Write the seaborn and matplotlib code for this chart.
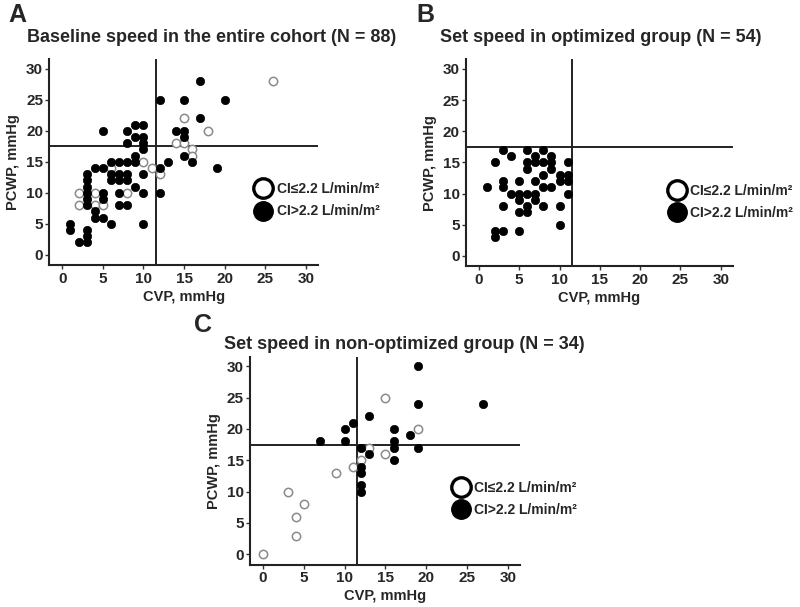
import matplotlib
matplotlib.use("Agg")
import matplotlib.pyplot as plt
from matplotlib.lines import Line2D
import pandas as pd
import seaborn as sns

# Panel A - baseline speed, entire cohort
a_open_cvp = [2, 2, 4, 4, 5, 6, 8, 10, 11, 12, 14, 15, 15, 16, 16, 18, 26]
a_open_pcwp = [10, 8, 10, 8, 8, 14, 10, 15, 14, 13, 18, 18, 22, 17, 16, 20, 28]
a_fill_cvp = [1, 1, 2, 3, 3, 3, 3, 3, 3, 3, 3, 3,
              4, 4, 4, 5, 5, 5, 5, 5,
              6, 6, 6, 6, 7, 7, 7, 7, 7,
              8, 8, 8, 8, 8, 8,
              9, 9, 9, 9, 9,
              10, 10, 10, 10, 10, 10, 10,
              12, 12, 12, 13, 14, 15, 15, 15, 15, 16, 17, 17, 19, 20]
a_fill_pcwp = [5, 4, 2, 13, 12, 11, 10, 9, 8, 4, 3, 2,
               14, 7, 6, 20, 14, 10, 9, 6,
               15, 13, 12, 5, 15, 13, 12, 10, 8,
               20, 18, 15, 13, 12, 8,
               21, 19, 16, 15, 11,
               21, 19, 18, 17, 13, 10, 5,
               25, 14, 10, 15, 20, 25, 20, 19, 16, 15, 28, 22, 14, 25]

# Panel B - set speed, optimized group (all CI > 2.2)
b_fill_cvp = [1, 2, 2, 2, 3, 3, 3, 3, 3, 4, 4,
              5, 5, 5, 5, 5, 6, 6, 6, 6, 6, 6,
              7, 7, 7, 7, 7, 8, 8, 8, 8, 8,
              9, 9, 9, 9, 10, 10, 10, 10, 11, 11, 11, 11]
b_fill_pcwp = [11, 15, 4, 3, 17, 12, 11, 8, 4, 16, 10,
               12, 10, 9, 7, 4, 17, 15, 14, 10, 8, 7,
               16, 15, 12, 10, 9, 17, 15, 13, 11, 8,
               16, 15, 14, 11, 13, 12, 8, 5, 15, 13, 12, 10]

# Panel C - set speed, non-optimized group
c_open_cvp = [0, 3, 4, 4, 5, 9, 11, 12, 13, 15, 15, 19]
c_open_pcwp = [0, 10, 6, 3, 8, 13, 14, 15, 17, 16, 25, 20]
c_fill_cvp = [7, 10, 10, 11, 12, 12, 12, 12, 12, 13, 13,
              16, 16, 16, 16, 18, 19, 19, 19, 27]
c_fill_pcwp = [18, 20, 18, 21, 17, 14, 13, 11, 10, 22, 16,
               20, 18, 17, 15, 19, 30, 24, 17, 24]

titles = ["Baseline speed in the entire cohort (N = 88)",
          "Set speed in optimized group (N = 54)",
          "Set speed in non-optimized group (N = 34)"]
legend_labels = ["CI≤2.2 L/min/m²", "CI>2.2 L/min/m²"]

sns.set_style("ticks")
plt.rcParams["font.family"] = ["Liberation Sans", "DejaVu Sans"]
plt.rcParams["font.weight"] = "bold"

fig = plt.figure(figsize=(8, 6.07), dpi=100)
axA = fig.add_axes([0.0616, 0.563, 0.336, 0.339])
axB = fig.add_axes([0.5825, 0.561, 0.3335, 0.341])
axC = fig.add_axes([0.3125, 0.0692, 0.3375, 0.343])


def draw_panel(ax, open_x, open_y, fill_x, fill_y):
    if open_x:
        df_o = pd.DataFrame({"CVP": open_x, "PCWP": open_y})
        sns.scatterplot(data=df_o, x="CVP", y="PCWP", ax=ax, s=36,
                        facecolor="white", edgecolor="#8a8a8a", linewidth=1.1, zorder=3)
    df_f = pd.DataFrame({"CVP": fill_x, "PCWP": fill_y})
    sns.scatterplot(data=df_f, x="CVP", y="PCWP", ax=ax, s=36,
                    color="black", edgecolor="black", linewidth=0.5, zorder=4)
    ax.axvline(11.5, color="#222222", lw=1.4, zorder=2)
    ax.axhline(17.5, color="#222222", lw=1.4, zorder=2)
    ax.set_xlim(-1.6, 31.5)
    ax.set_ylim(-1.7, 31.5)
    ax.set_xticks(range(0, 31, 5))
    ax.set_yticks(range(0, 31, 5))
    ax.tick_params(labelsize=11, length=3, width=1, pad=1.5, color="#333333")
    for lab in ax.get_xticklabels() + ax.get_yticklabels():
        lab.set_fontweight("bold")
    sns.despine(ax=ax)
    for sp in ("left", "bottom"):
        ax.spines[sp].set_linewidth(1.5)
        ax.spines[sp].set_color("#222222")
    ax.set_xlabel("CVP, mmHg", fontsize=10.5, fontweight="bold", labelpad=3)
    ax.set_ylabel("PCWP, mmHg", fontsize=10.5, fontweight="bold", labelpad=4)


draw_panel(axA, a_open_cvp, a_open_pcwp, a_fill_cvp, a_fill_pcwp)
draw_panel(axB, [], [], b_fill_cvp, b_fill_pcwp)
draw_panel(axC, c_open_cvp, c_open_pcwp, c_fill_cvp, c_fill_pcwp)

handles = [Line2D([], [], marker="o", ls="", markersize=14, markerfacecolor="white",
                  markeredgecolor="black", markeredgewidth=2.4),
           Line2D([], [], marker="o", ls="", markersize=14, markerfacecolor="black",
                  markeredgecolor="black")]
for ax, pos in [(axA, (0.318, 0.67)), (axB, (0.835, 0.667)), (axC, (0.565, 0.178))]:
    ax.legend(handles, legend_labels, loc="center left", bbox_to_anchor=pos,
              bbox_transform=fig.transFigure, frameon=False,
              handletextpad=0.3, labelspacing=0.6, borderpad=0, borderaxespad=0,
              handlelength=1.3, prop={"weight": "bold", "size": 10})

# panel letters and titles
fig.text(0.010, 0.975, "A", fontsize=18, fontweight="bold", va="center")
fig.text(0.034, 0.939, titles[0], fontsize=13, fontweight="bold", va="center")
fig.text(0.520, 0.975, "B", fontsize=18, fontweight="bold", va="center")
fig.text(0.550, 0.939, titles[1], fontsize=13, fontweight="bold", va="center")
fig.text(0.243, 0.465, "C", fontsize=18, fontweight="bold", va="center")
fig.text(0.280, 0.432, titles[2], fontsize=13, fontweight="bold", va="center")

fig.savefig("out.png", dpi=100, facecolor="white")
